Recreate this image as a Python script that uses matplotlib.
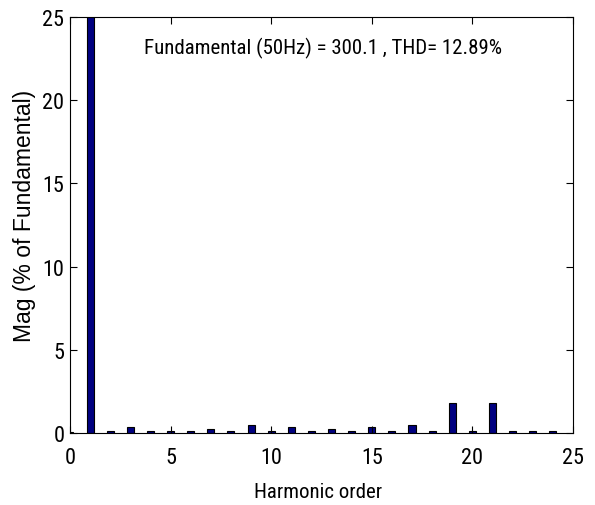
import numpy as np
import matplotlib
matplotlib.use("Agg")
import matplotlib.pyplot as plt

plt.rcParams['font.family'] = ['Roboto Condensed', 'DejaVu Sans']

# harmonic spectrum, % of fundamental (fundamental is 100, clipped by ylim)
harmonics = np.arange(0, 25)
mag = [0.05, 100, 0.1, 0.35, 0.1, 0.1, 0.1, 0.25, 0.1, 0.5, 0.1, 0.35,
       0.1, 0.25, 0.1, 0.35, 0.1, 0.5, 0.1, 1.8, 0.1, 1.8, 0.1, 0.1, 0.1]

fig = plt.figure(figsize=(5.95, 5.06), dpi=100)
ax = fig.add_axes([0.1176, 0.1423, 0.8454, 0.8221])

ax.bar(harmonics, mag, width=0.35, color='#000080', edgecolor='black', linewidth=0.8)

ax.set_xlim(0, 25)
ax.set_ylim(0, 25)
ax.set_xticks([0, 5, 10, 15, 20, 25])
ax.set_yticks([0, 5, 10, 15, 20, 25])
ax.tick_params(direction='in', top=True, right=True, labelsize=16, length=5, pad=4)
ax.tick_params(axis='x', pad=10)
for s in ax.spines.values():
    s.set_linewidth(0.8)

ax.set_xlabel('Harmonic order', fontsize=15)
ax.xaxis.set_label_coords(0.494, -0.118)
ax.set_ylabel('Mag (% of Fundamental)', fontsize=16.5, family='Liberation Sans')
ax.yaxis.set_label_coords(-0.068, 0.525)
ax.text(0.503, 0.928, 'Fundamental (50Hz) = 300.1 , THD= 12.89%',
        transform=ax.transAxes, ha='center', va='center', fontsize=15)

fig.savefig('out.png', dpi=100)
